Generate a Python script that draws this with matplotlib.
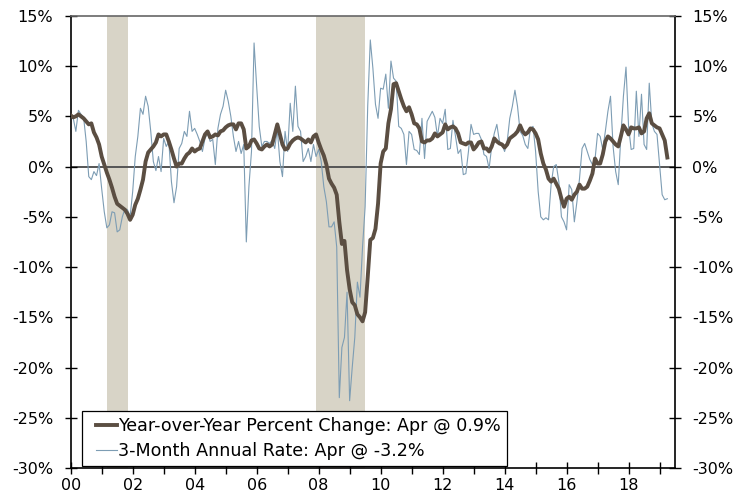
import numpy as np
import matplotlib
matplotlib.use("Agg")
import matplotlib.pyplot as plt
from matplotlib.legend_handler import HandlerLine2D

# ---- data (monthly, Jan 2000 .. Apr 2019) ----
start_year = 2000
yoy = [
    5.1, 4.9, 5.0, 5.2, 5.0, 4.8, 4.5, 4.2, 4.3, 3.4, 2.9, 2.2,          # 2000
    1.0, 0.2, -0.6, -1.3, -2.1, -3.0, -3.7, -3.9, -4.1, -4.3, -4.7, -5.3,  # 2001
    -4.8, -3.8, -3.2, -2.3, -1.3, 0.5, 1.4, 1.7, 2.0, 2.4, 3.2, 3.0,    # 2002
    3.2, 3.2, 2.5, 1.7, 0.8, 0.0, 0.3, 0.3, 0.8, 1.2, 1.4, 1.8,         # 2003
    1.5, 1.7, 1.8, 2.5, 3.2, 3.5, 2.9, 3.0, 3.2, 3.1, 3.5, 3.6,         # 2004
    3.9, 4.1, 4.2, 4.2, 3.7, 4.3, 4.3, 3.7, 1.8, 2.0, 2.6, 2.7,         # 2005
    2.3, 1.8, 1.7, 2.0, 2.2, 2.0, 2.2, 3.2, 4.2, 3.2, 2.2, 1.7,         # 2006
    1.8, 2.3, 2.6, 2.8, 2.9, 2.8, 2.6, 2.4, 2.7, 2.4, 3.0, 3.2,         # 2007
    2.4, 1.7, 1.1, 0.2, -1.2, -1.7, -2.1, -2.8, -5.5, -7.7, -7.4, -10.3,  # 2008
    -12.2, -13.5, -13.8, -14.7, -15.0, -15.4, -14.5, -11.0, -7.3, -7.1, -6.2, -3.7,  # 2009
    0.3, 1.5, 1.8, 4.3, 5.7, 8.2, 8.3, 7.5, 6.7, 6.0, 5.5, 5.9,         # 2010
    5.2, 4.3, 4.2, 3.8, 2.5, 2.4, 2.6, 2.6, 2.8, 3.3, 3.0, 3.2,         # 2011
    3.4, 4.2, 3.7, 3.9, 4.0, 3.8, 3.3, 2.4, 2.3, 2.2, 2.4, 2.4,         # 2012
    1.7, 2.0, 2.4, 2.5, 1.8, 1.8, 1.5, 2.0, 2.8, 2.5, 2.3, 2.2,         # 2013
    1.9, 2.2, 2.8, 3.0, 3.2, 3.5, 4.1, 3.5, 3.2, 3.4, 3.8, 3.7,         # 2014
    3.3, 2.7, 1.3, 0.3, -0.3, -1.2, -1.5, -1.2, -1.7, -2.2, -3.2, -4.0,  # 2015
    -3.2, -3.0, -3.3, -2.8, -2.5, -1.8, -2.2, -2.2, -2.0, -1.4, -0.7, 0.8,  # 2016
    0.3, 0.3, 1.2, 2.5, 3.0, 2.8, 2.5, 2.2, 2.0, 3.0, 4.1, 3.7,         # 2017
    3.2, 3.9, 3.8, 3.8, 3.9, 3.3, 3.5, 4.8, 5.3, 4.3, 4.1, 3.9,         # 2018
    3.8, 3.2, 2.6, 0.9,                                                # 2019
]
ann3m = [
    5.0, 4.8, 3.5, 5.6, 5.2, 4.9, 2.5, -1.0, -1.3, -0.5, -0.9, 0.3,      # 2000
    -2.2, -4.5, -6.1, -5.8, -4.5, -4.6, -6.5, -6.3, -5.0, -4.2, -4.3, -5.0,  # 2001
    -2.5, 1.0, 3.0, 5.8, 5.2, 7.0, 6.0, 3.5, 0.5, -0.4, 1.0, -0.5,      # 2002
    2.8, 2.0, 2.5, -1.5, -3.6, -2.0, 1.8, 2.3, 3.5, 3.0, 5.5, 3.5,      # 2003
    3.8, 3.2, 2.5, 1.5, 2.8, 3.3, 2.5, 2.7, 0.2, 3.8, 5.2, 6.0,         # 2004
    7.6, 6.5, 5.0, 3.0, 1.5, 2.5, 1.3, 2.2, -7.5, -2.0, 1.5, 12.3,      # 2005
    8.0, 4.0, 2.0, 2.5, 2.5, 2.3, 2.6, 1.8, 3.7, 0.5, -1.0, 3.5,        # 2006
    1.5, 6.3, 3.5, 8.0, 4.0, 3.5, 0.5, 1.0, 1.8, 0.5, 2.2, 1.0,         # 2007
    1.7, 0.5, -2.0, -3.5, -6.0, -6.0, -5.5, -8.0, -23.0, -18.0, -17.0, -12.5,  # 2008
    -23.3, -20.0, -17.0, -11.5, -13.0, -8.0, -4.0, 6.0, 12.6, 9.8, 6.2, 4.8,   # 2009
    7.8, 7.7, 9.2, 5.8, 10.5, 8.8, 8.5, 4.0, 3.8, 3.2, 0.2, 3.5,        # 2010
    3.2, 1.7, 1.6, 1.2, 4.8, 0.8, 4.5, 5.0, 5.5, 4.9, 3.0, 4.8,         # 2011
    4.3, 5.7, 1.7, 1.8, 4.6, 3.0, 1.3, 1.7, -0.8, -0.7, 1.5, 4.2,       # 2012
    3.2, 3.3, 3.3, 2.7, 1.2, 1.0, -0.2, 2.0, 3.3, 4.2, 2.5, 2.2,        # 2013
    1.5, 2.5, 4.8, 6.0, 7.6, 6.0, 3.5, 3.1, 2.2, 1.8, 3.8, 4.0,         # 2014
    1.5, -2.5, -5.0, -5.3, -5.1, -5.3, -1.8, 0.0, 0.2, -1.5, -5.0, -5.5,  # 2015
    -6.3, -1.8, -2.3, -5.5, -3.5, -1.2, 1.8, 2.3, 1.5, 0.7, 0.2, 0.7,   # 2016
    3.3, 3.0, 1.7, 3.5, 5.5, 7.0, 2.0, -0.5, -1.8, 3.0, 7.0, 9.9,       # 2017
    4.0, 1.7, 1.8, 7.5, 3.0, 7.2, 2.2, 1.7, 8.3, 4.3, 3.5, 3.2,         # 2018
    0.2, -2.8, -3.3, -3.2,                                             # 2019
]
recessions = [(2001 + 2 / 12, 2001 + 10 / 12), (2007 + 11 / 12, 2009 + 6 / 12)]
yticks = [15, 10, 5, 0, -5, -10, -15, -20, -25, -30]
ytick_labels = ["15%", "10%", "5%", "0%", "-5%", "-10%", "-15%", "-20%", "-25%", "-30%"]
xtick_years = list(range(2000, 2020))
xtick_labels = [f"{y % 100:02d}" if y % 2 == 0 else "" for y in xtick_years]
legend_labels = ["Year-over-Year Percent Change: Apr @ 0.9%",
                 "3-Month Annual Rate: Apr @ -3.2%"]

# ---- style ----
plt.rcParams["font.family"] = ["DejaVu Sans"]
brown = "#5b4e42"
blue = "#7d9db4"
shade = "#d8d4c7"


class ShiftedLineHandler(HandlerLine2D):
    """Legend line handle shifted right by a fraction of the font size."""

    def __init__(self, shift=0.45, **kw):
        super().__init__(**kw)
        self.shift = shift

    def create_artists(self, legend, orig_handle, xdescent, ydescent,
                       width, height, fontsize, trans):
        return super().create_artists(legend, orig_handle,
                                      xdescent - self.shift * fontsize,
                                      ydescent, width, height, fontsize, trans)


fig = plt.figure(figsize=(7.48, 4.95), dpi=100)
ax = fig.add_axes([0.0945, 0.0545, 0.808, 0.9135])

x = start_year + np.arange(len(yoy)) / 12.0

for s, e in recessions:
    ax.axvspan(s, e, color=shade, lw=0, zorder=0)

ax.axhline(0, color="#555555", lw=1.4, zorder=1)
l2, = ax.plot(x, ann3m, color=blue, lw=0.8, zorder=2)
l1, = ax.plot(x, yoy, color=brown, lw=2.8, zorder=3, solid_joinstyle="round")

ax.set_xlim(2000, 2019.5)
ax.set_ylim(-30, 15)
ax.set_yticks(yticks)
ax.set_yticklabels(ytick_labels)
ax.set_xticks(xtick_years)
ax.set_xticklabels(xtick_labels)

ax.tick_params(axis="y", which="both", direction="inout", length=9, width=1,
               left=True, right=True, labelleft=True, labelright=True,
               labelsize=11.5, pad=8, colors="black")
ax.tick_params(axis="x", direction="inout", length=9, width=1,
               labelsize=11.5, pad=2.5)

for side in ["left", "right", "bottom"]:
    ax.spines[side].set_color("black")
    ax.spines[side].set_linewidth(1.2)
ax.spines["top"].set_color("#666666")
ax.spines["top"].set_linewidth(1.2)

leg = ax.legend([l1, l2], legend_labels, loc="lower left",
                bbox_to_anchor=(0.0187, 0.004), borderaxespad=0,
                fontsize=12.6, handlelength=1.2, handletextpad=0.5,
                frameon=True, fancybox=False, framealpha=1,
                edgecolor="black", borderpad=0.35, labelspacing=0.42,
                handler_map={l1: ShiftedLineHandler(), l2: ShiftedLineHandler()})
leg.get_frame().set_linewidth(0.9)

fig.savefig("out.png", dpi=100)
